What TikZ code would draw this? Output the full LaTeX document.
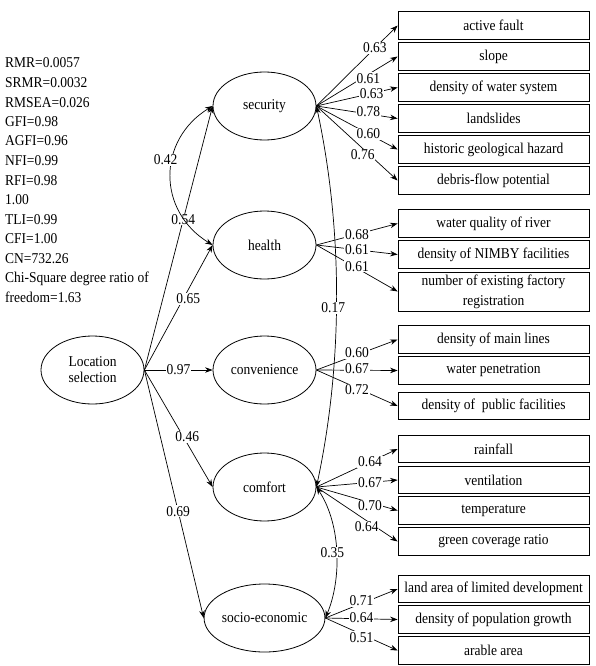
\documentclass[tikz,border=0pt]{standalone}
\usepackage{fontspec}
\setmainfont{Liberation Serif}[FakeStretch=0.9]
\usetikzlibrary{shapes.geometric,arrows.meta}
\begin{document}
\begin{tikzpicture}[x=1pt,y=-1pt,
  every node/.style={font=\fontsize{15}{18}\selectfont},
  lat/.style={draw, ellipse, minimum width=103pt, minimum height=68pt, inner sep=0pt, line width=0.8pt, align=center},
  obs/.style={draw, rectangle, minimum width=191pt, minimum height=27.5pt, inner sep=0pt, line width=0.8pt, align=center},
  lab/.style={fill=white, inner sep=0.8pt},
  arr/.style={-{Stealth[length=7.5pt,width=5.5pt]}, line width=0.7pt},
  cov/.style={{Stealth[length=7.5pt,width=5.5pt]}-{Stealth[length=7.5pt,width=5.5pt]}, line width=0.7pt},
]
\useasboundingbox (0,0) rectangle (595,666);

% fit statistics
\foreach \t [count=\i] in {RMR=0.0057,SRMR=0.0032,RMSEA=0.026,GFI=0.98,AGFI=0.96,NFI=0.99,RFI=0.98,1.00,TLI=0.99,CFI=1.00,CN=732.26,Chi-Square degree ratio of,freedom=1.63}
  \node[anchor=base west, inner sep=0pt] (s\i) at (5, 48.5+19.5*\i) {\t};

% latent variables
\node[lat] (loc) at (92.5,370) {Location\\[-2pt]selection};
\node[lat] (sec) at (264.5,106) {security};
\node[lat] (hea) at (264.5,245) {health};
\node[lat] (con) at (264.5,370) {convenience};
\node[lat] (com) at (264.5,487) {comfort};
\node[lat] (soc) at (264.5,618) {socio-economic};

% observed variables
\node[obs] (a1) at (493.5,25.5) {active fault};
\node[obs] (a2) at (493.5,56.5) {slope};
\node[obs] (a3) at (493.5,87.5) {density of water system};
\node[obs] (a4) at (493.5,118.5) {landslides};
\node[obs] (a5) at (493.5,149.5) {historic geological hazard};
\node[obs] (a6) at (493.5,180.5) {debris-flow potential};
\node[obs] (b1) at (493.5,223.5) {water quality of river};
\node[obs] (b2) at (493.5,254.5) {density of NIMBY facilities};
\node[obs, minimum height=39pt, font=\fontsize{15}{20}\selectfont] (b3) at (493.5,291.5) {number of existing factory\\registration};
\node[obs] (c1) at (493.5,339.5) {density of main lines};
\node[obs] (c2) at (493.5,370.5) {water penetration};
\node[obs] (c3) at (493.5,406) {density of~ public facilities};
\node[obs] (d1) at (493.5,449) {rainfall};
\node[obs] (d2) at (493.5,480) {ventilation};
\node[obs] (d3) at (493.5,510.5) {temperature};
\node[obs] (d4) at (493.5,541.5) {green coverage ratio};
\node[obs] (e1) at (493.5,589) {land area of limited development};
\node[obs] (e2) at (493.5,619.5) {density of population growth};
\node[obs] (e3) at (493.5,650.5) {arable area};

% loadings: lines
\foreach \l/\b in {sec/a1,sec/a2,sec/a3,sec/a4,sec/a5,sec/a6,hea/b1,hea/b2,hea/b3,con/c1,con/c2,con/c3,com/d1,com/d2,com/d3,com/d4,soc/e1,soc/e2,soc/e3}
  \draw[arr] (\l.east) -- (\b.west);
% loadings: labels
\foreach \l/\b/\v/\p/\s in {sec/a1/0.63/0.72/0, sec/a2/0.61/0.64/-4, sec/a3/0.63/0.68/0, sec/a4/0.78/0.64/2, sec/a5/0.60/0.64/0, sec/a6/0.76/0.57/-6,
  hea/b1/0.68/0.5/0, hea/b2/0.61/0.5/0, hea/b3/0.61/0.5/2,
  con/c1/0.60/0.5/2, con/c2/0.67/0.5/2, con/c3/0.72/0.5/-2,
  com/d1/0.64/0.66/0, com/d2/0.67/0.66/0, com/d3/0.70/0.66/-3, com/d4/0.64/0.62/-6,
  soc/e1/0.71/0.5/2.5, soc/e2/0.64/0.5/1.5, soc/e3/0.51/0.5/-3}
  \path (\l.east) -- node[lab, pos=\p, yshift=\s pt] {\v} (\b.west);

% structural paths
\draw[arr] (loc.east) -- node[lab, pos=0.57] {0.54} (sec.west);
\draw[arr] (loc.east) -- node[lab, pos=0.57, xshift=5pt] {0.65} (hea.west);
\draw[arr] (loc.east) -- node[lab, pos=0.5] {0.97} (con.west);
\draw[arr] (loc.east) -- node[lab, pos=0.57, xshift=4pt] {0.46} (com.west);
\draw[arr] (loc.east) -- node[lab, pos=0.57] {0.69} (soc.west);

% covariances
\draw[cov] (sec.west) .. controls (157,140) and (157,211) .. node[lab, pos=0.4, xshift=-7pt] {0.42} (hea.west);
\draw[cov] (sec.east) .. controls (343,230) and (343,363) .. node[lab, pos=0.53, xshift=-3pt] {0.17} (com.east);
\draw[cov] (com.east) .. controls (341.5,525) and (341.5,580) .. node[lab, pos=0.5, xshift=-4pt] {0.35} (soc.east);
\end{tikzpicture}
\end{document}
